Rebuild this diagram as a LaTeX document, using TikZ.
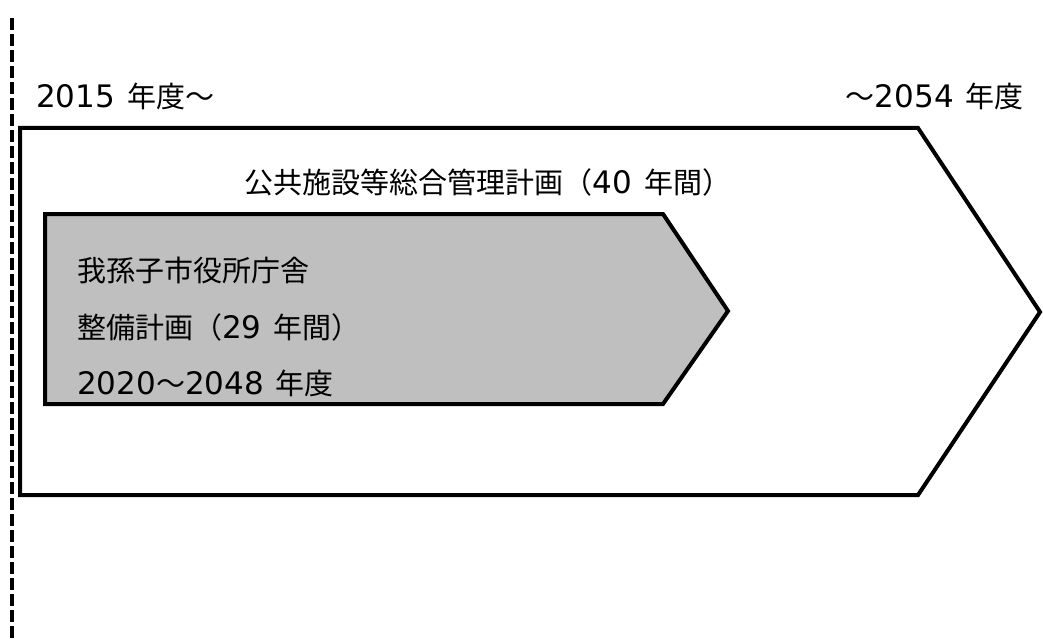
\documentclass[tikz,border=0pt]{standalone}
\usepackage{fontspec}
\usepackage{tikz}
\newfontfamily\jpfont{Noto Sans CJK JP}
\newfontfamily\latfont{DejaVu Sans}
\newcommand{\yr}[1]{{\latfont\fontsize{31}{56.5}\selectfont #1}\hspace{12pt}}

\begin{document}
\begin{tikzpicture}[x=1pt, y=-1pt, every node/.style={inner sep=0pt, font=\jpfont\fontsize{29}{56.5}\selectfont},
  plan/.style={draw=black, line width=4pt, line join=miter}]
\useasboundingbox (0,0) rectangle (1043,639);
\draw[line width=4pt, dash pattern=on 12pt off 4pt] (12,18) -- (12,639);

% overall plan arrow
\draw[plan, fill=white] (20,128) -- (918,128) -- (1040,312) -- (918,495) -- (20,495) -- cycle;
% building plan arrow
\draw[plan, fill=black!25] (45,214) -- (663,214) -- (728,311) -- (663,404) -- (45,404) -- cycle;

\node[anchor=west] (start) at (36,96) {\yr{2015}年度～};
\node[anchor=east] (end) at (1024,96) {～\yr{2054}年度};
\node (plan) at (488,182) {公共施設等総合管理計画（\yr{40}年間）};
\node[anchor=west] (bldg1) at (77,270) {我孫子市役所庁舎};
\node[anchor=west] (bldg2) at (77,327) {整備計画（\yr{29}年間）};
\node[anchor=west] (bldg3) at (77,383) {{\latfont\fontsize{31}{56.5}\selectfont 2020}～\yr{2048}年度};
\end{tikzpicture}
\end{document}
